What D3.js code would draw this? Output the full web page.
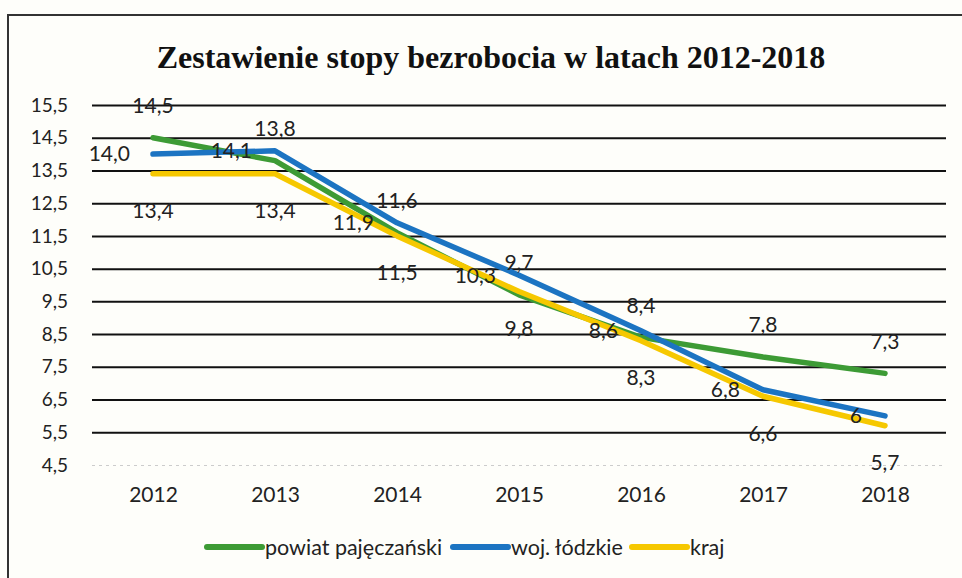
<!DOCTYPE html>
<html>
<head>
<meta charset="utf-8">
<script src="https://cdn.jsdelivr.net/npm/d3@7"></script>
<style>
  html, body { margin: 0; padding: 0; background: #fefefa; }
  svg { display: block; }
  text { font-family: Lato, 'Liberation Sans', sans-serif; fill: #222; }
</style>
</head>
<body>
<svg id="chart" width="962" height="578"></svg>
<script>
const years = ['2012', '2013', '2014', '2015', '2016', '2017', '2018']
const powiat = [14.5, 13.8, 11.6, 9.7, 8.4, 7.8, 7.3]
const wojewodztwo = [14.0, 14.1, 11.9, 10.3, 8.6, 6.8, 6.0]
const kraj = [13.4, 13.4, 11.5, 9.8, 8.3, 6.6, 5.7]
const yTicks = [4.5, 5.5, 6.5, 7.5, 8.5, 9.5, 10.5, 11.5, 12.5, 13.5, 14.5, 15.5]
const seriesNames = ['powiat pajęczański', 'woj. łódzkie', 'kraj']

const title = 'Zestawienie stopy bezrobocia w latach 2012-2018'

const marginLeft = 92
const marginRight = 16
const plotTop = 105
const plotBottom = 465

const colors = ['#3d9b35', '#1c74c2', '#f6c800']
const fmt = (v) => (Number.isInteger(v) && v < 10 ? String(v) : v.toFixed(1).replace('.', ','))

const series = [
  { name: seriesNames[0], values: powiat, color: colors[0], label: 'above' },
  { name: seriesNames[1], values: wojewodztwo, color: colors[1], label: 'left' },
  { name: seriesNames[2], values: kraj, color: colors[2], label: 'below' },
]

const svg = d3.select('#chart')
const width = +svg.attr('width')
const height = +svg.attr('height')

// frame of the scanned chart box
svg.append('path')
  .attr('d', `M8,${height} V15 H${width}`)
  .attr('fill', 'none')
  .attr('stroke', '#333')
  .attr('stroke-width', 2)

svg.append('text')
  .attr('x', 491)
  .attr('y', 68)
  .attr('text-anchor', 'middle')
  .style('font-family', "'Liberation Serif', 'Times New Roman', serif")
  .style('font-weight', 'bold')
  .style('font-size', '32px')
  .style('fill', '#111')
  .text(title)

const x = d3.scalePoint()
  .domain(years)
  .range([marginLeft, width - marginRight])
  .padding(0.5)

const y = d3.scaleLinear()
  .domain([4.5, 15.5])
  .range([plotBottom, plotTop])

// gridlines + y labels
const yAxis = svg.append('g')
  .attr('transform', `translate(${marginLeft},0)`)
  .call(d3.axisLeft(y)
    .tickValues(yTicks)
    .tickSize(-(width - marginRight - marginLeft))
    .tickPadding(24)
    .tickFormat((d) => d.toFixed(1).replace('.', ',')))
yAxis.select('.domain').remove()
yAxis.selectAll('.tick line')
  .attr('stroke', (d) => (d === 4.5 ? '#ccc' : '#111'))
  .attr('stroke-width', (d) => (d === 4.5 ? 1 : 2))
  .attr('stroke-dasharray', (d) => (d === 4.5 ? '3,4' : null))
yAxis.selectAll('.tick text')
  .style('font-size', '19px')
  .attr('fill', '#222')

// x labels
const xAxis = svg.append('g')
  .attr('transform', `translate(0,${plotBottom})`)
  .call(d3.axisBottom(x).tickSize(0).tickPadding(22))
xAxis.select('.domain').remove()
xAxis.selectAll('.tick text')
  .style('font-size', '21px')
  .attr('fill', '#222')

const line = d3.line()
  .x((d, i) => x(years[i]))
  .y((d) => y(d))

const plot = svg.append('g')
for (const s of series) {
  plot.append('path')
    .datum(s.values)
    .attr('fill', 'none')
    .attr('stroke', s.color)
    .attr('stroke-width', 5.5)
    .attr('stroke-linecap', 'round')
    .attr('stroke-linejoin', 'round')
    .attr('d', line)
}

// data labels
for (const s of series) {
  plot.append('g')
    .selectAll('text')
    .data(s.values)
    .join('text')
    .attr('x', (d, i) => x(years[i]) + (s.label === 'left' ? -23 : 0))
    .attr('y', (d) => y(d) + (s.label === 'above' ? -32 : s.label === 'below' ? 37 : 0))
    .attr('dy', '0.35em')
    .attr('text-anchor', s.label === 'left' ? 'end' : 'middle')
    .style('font-size', '21px')
    .text((d) => fmt(d))
}

// legend
const legendItems = [
  { x: 207, s: series[0] },
  { x: 453, s: series[1] },
  { x: 632, s: series[2] },
]
const legend = svg.append('g').attr('transform', 'translate(0,547)')
for (const item of legendItems) {
  legend.append('line')
    .attr('x1', item.x)
    .attr('x2', item.x + 55)
    .attr('stroke', item.s.color)
    .attr('stroke-width', 6)
    .attr('stroke-linecap', 'round')
  legend.append('text')
    .attr('x', item.x + 58)
    .attr('dy', '0.35em')
    .style('font-size', '21.5px')
    .text(item.s.name)
}
</script>
</body>
</html>
